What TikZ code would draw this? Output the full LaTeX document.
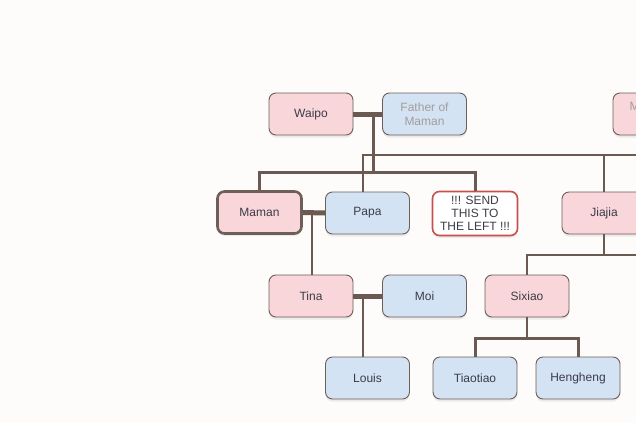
\documentclass[tikz,border=0pt]{standalone}
\usepackage{xcolor}
\usepackage{fontspec}
\setmainfont{Liberation Sans}
\usetikzlibrary{positioning,shadows}

\definecolor{pagecol}{HTML}{FDFCFB}
\definecolor{femcol}{HTML}{F8D6DA}
\definecolor{malcol}{HTML}{D3E3F4}
\definecolor{edgecol}{HTML}{6E5E58}
\definecolor{linkcol}{HTML}{6B5A52}
\definecolor{namecol}{HTML}{3C3C48}
\definecolor{ghostcol}{HTML}{A39D9B}
\definecolor{warncol}{HTML}{C8504C}

\begin{document}
\begin{tikzpicture}[x=1pt,y=1pt,
    person/.style={rectangle, rounded corners=7pt, draw=edgecol, line width=0.9pt,
        minimum width=84pt, minimum height=42pt, align=center, text=namecol,
        font=\fontsize{12}{14}\selectfont,
        drop shadow={shadow xshift=0pt, shadow yshift=-2.5pt, opacity=0.07, fill=black}},
    female/.style={person, fill=femcol},
    male/.style={person, fill=malcol},
    ghost/.style={text=ghostcol},
    couple/.style={draw=linkcol, line width=5pt},
    kin/.style={draw=linkcol, line width=2pt},
    kinb/.style={draw=linkcol, line width=3pt}]
    \useasboundingbox (0,0) rectangle (636,-423);
    \clip (0,0) rectangle (636,-423);
    \fill[pagecol] (0,0) rectangle (636,-423);

    % grandparents
    \node [female] (waipo) at (311,-114) {Waipo};
    \node [male, ghost] (fathermaman) at (424.5,-114) {Father of\\Maman};
    \node [female, ghost] (motherpapa) at (655,-114) {Mother of\\Papa};

    % parents
    \node [female, line width=2.6pt] (maman) at (259.5,-212.5) {Maman};
    \node [male] (papa) at (367.5,-213) {Papa};
    \node [person, fill=white, draw=warncol, line width=1.6pt, minimum width=85pt,
        minimum height=44pt, font=\fontsize{12}{13}\selectfont] (send) at (475,-213.5)
        {!!! SEND\\THIS TO\\THE LEFT !!!};
    \node [female] (jiajia) at (604,-213) {Jiajia};

    % children
    \node [female] (tina) at (311,-296) {Tina};
    \node [male] (moi) at (424.5,-296) {Moi};
    \node [female] (sixiao) at (527,-296) {Sixiao};

    % grandchildren
    \node [male] (louis) at (367.5,-378) {Louis};
    \node [male] (tiaotiao) at (475,-378) {Tiaotiao};
    \node [male] (hengheng) at (578,-378) {Hengheng};

    % junctions
    \coordinate (wf) at (373,-114);
    \coordinate (wfkids) at (373,-172);
    \coordinate (mpright) at (640,-155);
    \coordinate (mp) at (312,-212);
    \coordinate (tm) at (363,-296);
    \coordinate (jjright) at (640,-255);
    \coordinate (sxkids) at (527,-338);

    % couples
    \draw [couple] (waipo.east) -- (fathermaman.west);
    \draw [couple] (maman.east) -- (papa.west);
    \draw [couple] (tina.east) -- (moi.west);

    % descent lines
    \draw [kinb] (wf) -- (wfkids);
    \draw [kinb] (maman.north) |- (wfkids) -| (send.north);
    \draw [kin] ([xshift=-4.5pt]papa.north) |- (mpright);
    \draw [kin] (jiajia.north) -- (jiajia.north |- mpright);
    \draw [kin] (mp) -- (tina.north -| mp);
    \draw [kin] (tm) -- (louis.north -| tm);
    \draw [kin] (jiajia.south) -- (jiajia.south |- jjright);
    \draw [kin] (sixiao.north) |- (jjright);
    \draw [kin] (sixiao.south) -- (sxkids);
    \draw [kinb] (tiaotiao.north) |- (sxkids) -| (hengheng.north);
\end{tikzpicture}
\end{document}
